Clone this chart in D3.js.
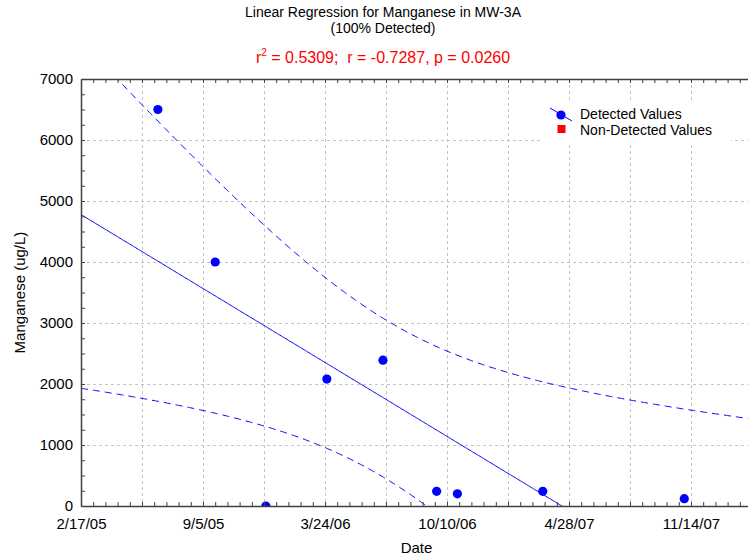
<!DOCTYPE html>
<html>
<head>
<meta charset="utf-8">
<script src="https://cdn.jsdelivr.net/npm/d3@7"></script>
<style>
  html, body { margin: 0; padding: 0; background: #fff; }
  svg { display: block; font-family: "Liberation Sans", Arial, sans-serif; }
  .title { white-space: pre; }
</style>
</head>
<body>
<svg id="chart" width="748" height="560"></svg>
<script>
// Sample dates and manganese concentrations (ug/L) for well MW-3A
const sampleDates = ["2005-06-23", "2005-09-25", "2005-12-17", "2006-03-27", "2006-06-27",
                     "2006-09-23", "2006-10-27", "2007-03-16", "2007-11-03"];
const manganese = [6500, 4000, 0, 2080, 2390, 240, 200, 240, 120];
const nonDetectDates = [];
const nonDetectValues = [];

// Axis definitions
const axisStart = "2/17/05";
const axisSpanDays = 1100;
const dateTickLabels = ["2/17/05", "9/5/05", "3/24/06", "10/10/06", "4/28/07", "11/14/07"];
const valueTicks = [0, 1000, 2000, 3000, 4000, 5000, 6000, 7000];

const titleLines = ["Linear Regression for Manganese in MW-3A", "(100% Detected)"];
const statsText = { r2: "0.5309", r: "-0.7287", p: "0.0260" };
const tCrit = 2.3646; // Student t, 95% two-sided, 7 degrees of freedom

const DAY = 86400000;
const parseTick = d3.utcParse("%m/%d/%y");
const parseIso = d3.utcParse("%Y-%m-%d");
const fmtTick = d3.utcFormat("%-m/%-d/%y");
const t0 = parseTick(axisStart);
const t1 = new Date(+t0 + axisSpanDays * DAY);

const margin = { left: 81, top: 79, right: 752, bottom: 506 };
const svg = d3.select("#chart");

const x = d3.scaleUtc().domain([t0, t1]).range([margin.left, margin.right]);
const y = d3.scaleLinear().domain([0, 7000]).range([margin.bottom, margin.top]);

const pts = sampleDates.map((d, i) => ({ date: parseIso(d), value: manganese[i] }));

// Clip to the plotting area
svg.append("clipPath").attr("id", "plotClip")
  .append("rect")
  .attr("x", margin.left).attr("y", margin.top)
  .attr("width", margin.right - margin.left)
  .attr("height", margin.bottom - margin.top);

// Grid lines
const gridDates = d3.range(100, axisSpanDays + 1, 100).map(d => new Date(+t0 + d * DAY));
const grid = svg.append("g").attr("stroke", "#c4c4c4").attr("stroke-width", 1)
  .attr("stroke-dasharray", "3,3");
grid.selectAll("line.v").data(gridDates).join("line")
  .attr("class", "v")
  .attr("x1", d => Math.round(x(d)) + 0.5).attr("x2", d => Math.round(x(d)) + 0.5)
  .attr("y1", margin.top).attr("y2", margin.bottom);
grid.selectAll("line.h").data(valueTicks.filter(v => v > 0 && v < 7000)).join("line")
  .attr("class", "h")
  .attr("x1", margin.left).attr("x2", margin.right)
  .attr("y1", d => Math.round(y(d)) + 0.5).attr("y2", d => Math.round(y(d)) + 0.5);

// Linear regression with 95% confidence band of the fitted line
const xs = pts.map(p => (p.date - t0) / DAY);
const ys = pts.map(p => p.value);
const n = xs.length;
const mx = d3.mean(xs), my = d3.mean(ys);
const sxx = d3.sum(xs, v => (v - mx) ** 2);
const sxy = d3.sum(xs.map((v, i) => (v - mx) * (ys[i] - my)));
const slope = sxy / sxx;
const intercept = my - slope * mx;
const sse = d3.sum(xs.map((v, i) => (ys[i] - (intercept + slope * v)) ** 2));
const se = Math.sqrt(sse / (n - 2));

const fitPts = d3.range(0, axisSpanDays + 0.5, 2).map(dd => {
  const fit = intercept + slope * dd;
  const hw = tCrit * se * Math.sqrt(1 / n + (dd - mx) ** 2 / sxx);
  return { date: new Date(+t0 + dd * DAY), fit, lo: fit - hw, hi: fit + hw };
});

const plot = svg.append("g").attr("clip-path", "url(#plotClip)");
const lineOf = key => d3.line().x(d => x(d.date)).y(d => y(d[key]));

plot.append("path").datum(fitPts)
  .attr("fill", "none").attr("stroke", "#0000ff").attr("stroke-width", 1)
  .attr("d", lineOf("fit"));
["lo", "hi"].forEach(k => {
  plot.append("path").datum(fitPts)
    .attr("fill", "none").attr("stroke", "#0000ff").attr("stroke-width", 1)
    .attr("stroke-dasharray", "7,5")
    .attr("d", lineOf(k));
});

// Axes: inward minor ticks every 20 days / 250 ug/L
const minorDates = d3.range(0, axisSpanDays + 1, 20).map(d => new Date(+t0 + d * DAY));
const minorVals = d3.range(0, 7001, 250);
const axisColor = "#404040";

const bottomTicks = svg.append("g").attr("transform", `translate(0,${margin.bottom})`)
  .call(d3.axisBottom(x).tickValues(minorDates).tickSizeInner(-4).tickSizeOuter(0).tickFormat(""));
const topTicks = svg.append("g").attr("transform", `translate(0,${margin.top})`)
  .call(d3.axisTop(x).tickValues(minorDates).tickSizeInner(-4).tickSizeOuter(0).tickFormat(""));
const leftTicks = svg.append("g").attr("transform", `translate(${margin.left},0)`)
  .call(d3.axisLeft(y).tickValues(minorVals).tickSizeInner(-4).tickSizeOuter(0).tickFormat(""));
[bottomTicks, topTicks, leftTicks].forEach(g => {
  g.selectAll("line").attr("stroke", axisColor);
  g.select(".domain").attr("stroke", axisColor).attr("stroke-width", 1.5);
});

// Tick labels
const xLabels = svg.append("g").attr("transform", `translate(0,${margin.bottom})`)
  .call(d3.axisBottom(x).tickValues(dateTickLabels.map(parseTick)).tickSize(0).tickPadding(12)
    .tickFormat(fmtTick));
xLabels.select(".domain").remove();
xLabels.selectAll("text").attr("font-size", 15).attr("fill", "#000")
  .attr("font-family", "Liberation Sans, Arial, sans-serif");

const yLabels = svg.append("g").attr("transform", `translate(${margin.left},0)`)
  .call(d3.axisLeft(y).tickValues(valueTicks).tickSize(0).tickPadding(8).tickFormat(d3.format("d")));
yLabels.select(".domain").remove();
yLabels.selectAll("text").attr("font-size", 15).attr("fill", "#000")
  .attr("font-family", "Liberation Sans, Arial, sans-serif");

// Data points
plot.selectAll("circle.det").data(pts).join("circle")
  .attr("class", "det")
  .attr("cx", d => x(d.date)).attr("cy", d => y(d.value)).attr("r", 4.6)
  .attr("fill", "#0000ff");
plot.selectAll("rect.nd").data(nonDetectDates.map((d, i) => ({ date: parseIso(d), value: nonDetectValues[i] })))
  .join("rect").attr("class", "nd")
  .attr("x", d => x(d.date) - 4).attr("y", d => y(d.value) - 4)
  .attr("width", 8).attr("height", 8).attr("fill", "#ff0000");

// Axis titles
const midX = (margin.left + margin.right) / 2;
svg.append("text").attr("x", midX).attr("y", 553).attr("text-anchor", "middle")
  .attr("font-size", 15).text("Date");
svg.append("text")
  .attr("transform", `translate(25,${(margin.top + margin.bottom) / 2}) rotate(-90)`)
  .attr("text-anchor", "middle").attr("font-size", 15).text("Manganese (ug/L)");

// Chart title and statistics
const titleX = 383;
svg.append("text").attr("x", titleX).attr("y", 17).attr("text-anchor", "middle")
  .attr("font-size", 14).text(titleLines[0]);
svg.append("text").attr("x", titleX).attr("y", 33).attr("text-anchor", "middle")
  .attr("font-size", 14).text(titleLines[1]);
const stats = svg.append("text").attr("class", "title").attr("x", titleX).attr("y", 63)
  .attr("text-anchor", "middle").attr("font-size", 16).attr("fill", "#ff0000");
stats.append("tspan").text("r");
stats.append("tspan").attr("font-size", 10).attr("dy", -7).text("2");
stats.append("tspan").attr("dy", 7)
  .text(` = ${statsText.r2};  r = ${statsText.r}, p = ${statsText.p}`);

// Legend
const legend = svg.append("g");
legend.append("rect").attr("x", 541).attr("y", 100).attr("width", 190).attr("height", 42)
  .attr("fill", "#fff");
legend.append("line").attr("x1", 550).attr("y1", 108).attr("x2", 572).attr("y2", 121)
  .attr("stroke", "#0000ff").attr("stroke-width", 1);
legend.append("circle").attr("cx", 561).attr("cy", 115).attr("r", 4.6).attr("fill", "#0000ff");
legend.append("rect").attr("x", 557.5).attr("y", 125).attr("width", 8).attr("height", 8)
  .attr("fill", "#ff0000");
legend.append("text").attr("x", 580).attr("y", 118.5).attr("font-size", 14).text("Detected Values");
legend.append("text").attr("x", 580).attr("y", 134.5).attr("font-size", 14).text("Non-Detected Values");
</script>
</body>
</html>
